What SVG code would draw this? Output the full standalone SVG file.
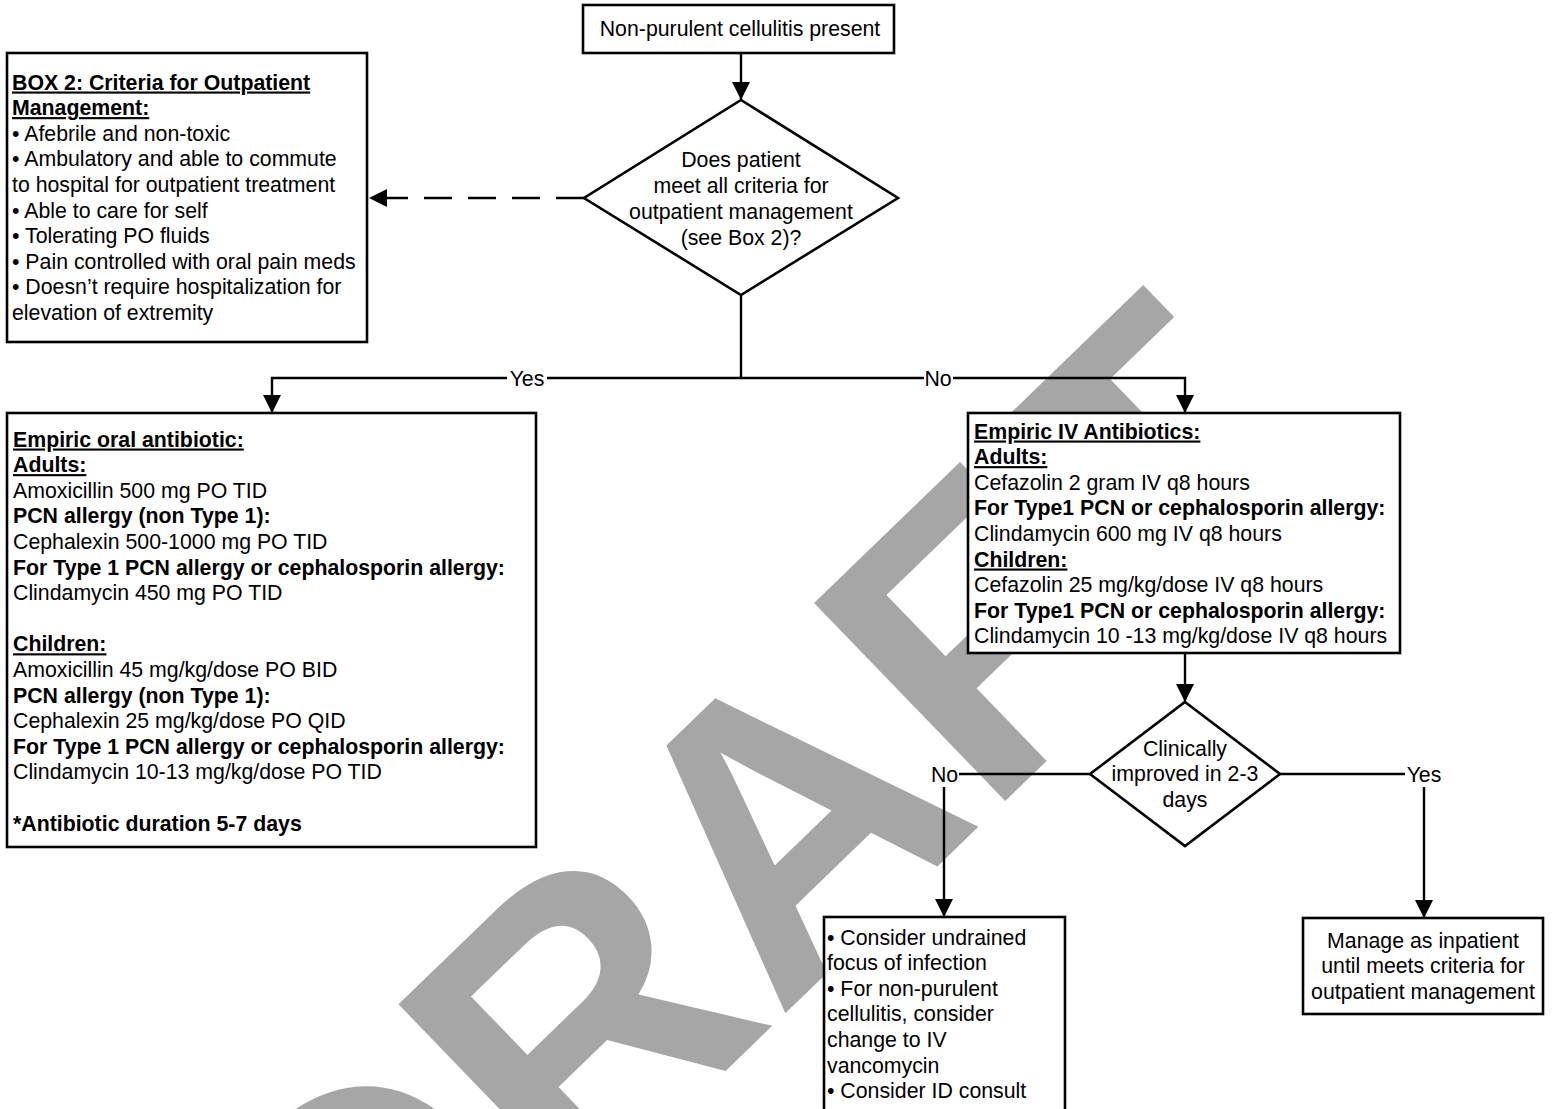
<svg xmlns="http://www.w3.org/2000/svg" width="1556" height="1109" viewBox="0 0 1556 1109">
<style>
  .bg{fill:#ffffff}
  .wm{fill:#a6a6a6;font-family:"Liberation Sans",Arial,sans-serif;font-weight:bold;font-size:400px}
  .node{fill:#ffffff;stroke:#000000;stroke-width:2.6}
  .conn{fill:none;stroke:#000000;stroke-width:2.4}
  .dash{stroke-dasharray:28 16}
  text{font-family:"Liberation Sans",Arial,sans-serif;font-size:21.3px;fill:#000000}
  .c{text-anchor:middle}
  .b{font-weight:bold}
  .u{text-decoration:underline}
</style>
<defs>
  <marker id="arr" markerUnits="userSpaceOnUse" markerWidth="18" markerHeight="18" viewBox="0 0 18 18" refX="18" refY="9" orient="auto">
    <path d="M0,0 L18,9 L0,18 Z" fill="#000000"/>
  </marker>
</defs>
<rect class="bg" x="0" y="0" width="1556" height="1109"/>

<g id="watermark">
  <text class="wm" transform="translate(362.6,1421.5) rotate(-44)">DRAFT</text>
</g>

<g id="connectors">
  <path class="conn" d="M741,53 L741,100" marker-end="url(#arr)"/>
  <path class="conn dash" d="M584,198 L369,198" marker-end="url(#arr)"/>
  <path class="conn" d="M741,295 L741,378"/>
  <path class="conn" d="M741,378 L547,378"/>
  <path class="conn" d="M507,378 L272,378 L272,413" marker-end="url(#arr)"/>
  <path class="conn" d="M741,378 L924,378"/>
  <path class="conn" d="M953,378 L1185,378 L1185,413" marker-end="url(#arr)"/>
  <text class="c" x="527" y="385.5">Yes</text>
  <text class="c" x="938" y="385.5">No</text>
  <path class="conn" d="M1185,653 L1185,702" marker-end="url(#arr)"/>
  <path class="conn" d="M1090,774 L959,774"/>
  <path class="conn" d="M944,787 L944,917" marker-end="url(#arr)"/>
  <text class="c" x="944.5" y="781.5">No</text>
  <path class="conn" d="M1280,774 L1405,774"/>
  <path class="conn" d="M1424,787 L1424,918" marker-end="url(#arr)"/>
  <text class="c" x="1424" y="781.5">Yes</text>
</g>

<g id="start">
  <rect class="node" x="583" y="5" width="311" height="48"/>
  <text class="c" x="740" y="36">Non-purulent cellulitis present</text>
</g>

<g id="decision1">
  <polygon class="node" points="741,100 898,198 741,295 584,198"/>
  <text class="c" x="741" y="166.5">Does patient</text>
  <text class="c" x="741" y="192.5">meet all criteria for</text>
  <text class="c" x="741" y="218.5">outpatient management</text>
  <text class="c" x="741" y="244.5">(see Box 2)?</text>
</g>

<g id="box2">
  <rect class="node" x="7" y="53" width="360" height="289"/>
  <text class="b u" x="12" y="89.5">BOX 2: Criteria for Outpatient</text>
  <text class="b u" x="12" y="115.1">Management:</text>
  <text x="12" y="140.7">• Afebrile and non-toxic</text>
  <text x="12" y="166.3">• Ambulatory and able to commute</text>
  <text x="12" y="191.9">to hospital for outpatient treatment</text>
  <text x="12" y="217.5">• Able to care for self</text>
  <text x="12" y="243.1">• Tolerating PO fluids</text>
  <text x="12" y="268.7">• Pain controlled with oral pain meds</text>
  <text x="12" y="294.3">• Doesn’t require hospitalization for</text>
  <text x="12" y="319.9">elevation of extremity</text>
</g>

<g id="oral">
  <rect class="node" x="7" y="413" width="529" height="434"/>
  <text class="b u" x="13" y="446.5">Empiric oral antibiotic:</text>
  <text class="b u" x="13" y="472.1">Adults:</text>
  <text x="13" y="497.7">Amoxicillin 500 mg PO TID</text>
  <text class="b" x="13" y="523.3">PCN allergy (non Type 1):</text>
  <text x="13" y="548.9">Cephalexin 500-1000 mg PO TID</text>
  <text class="b" x="13" y="574.5">For Type 1 PCN allergy or cephalosporin allergy:</text>
  <text x="13" y="600.1">Clindamycin 450 mg PO TID</text>
  <text class="b u" x="13" y="651.3">Children:</text>
  <text x="13" y="676.9">Amoxicillin 45 mg/kg/dose PO BID</text>
  <text class="b" x="13" y="702.5">PCN allergy (non Type 1):</text>
  <text x="13" y="728.1">Cephalexin 25 mg/kg/dose PO QID</text>
  <text class="b" x="13" y="753.7">For Type 1 PCN allergy or cephalosporin allergy:</text>
  <text x="13" y="779.3">Clindamycin 10-13 mg/kg/dose PO TID</text>
  <text class="b" x="13" y="830.5">*Antibiotic duration 5-7 days</text>
</g>

<g id="iv">
  <rect class="node" x="968" y="413" width="432" height="240"/>
  <text class="b u" x="974" y="438.5">Empiric IV Antibiotics:</text>
  <text class="b u" x="974" y="464.1">Adults:</text>
  <text x="974" y="489.7">Cefazolin 2 gram IV q8 hours</text>
  <text class="b" x="974" y="515.3">For Type1 PCN or cephalosporin allergy:</text>
  <text x="974" y="540.9">Clindamycin 600 mg IV q8 hours</text>
  <text class="b u" x="974" y="566.5">Children:</text>
  <text x="974" y="592.1">Cefazolin 25 mg/kg/dose IV q8 hours</text>
  <text class="b" x="974" y="617.7">For Type1 PCN or cephalosporin allergy:</text>
  <text x="974" y="643.3">Clindamycin 10 -13 mg/kg/dose IV q8 hours</text>
</g>

<g id="decision2">
  <polygon class="node" points="1185,702 1280,774 1185,846 1090,774"/>
  <text class="c" x="1185" y="755.5">Clinically</text>
  <text class="c" x="1185" y="781.1">improved in 2-3</text>
  <text class="c" x="1185" y="806.7">days</text>
</g>

<g id="notimproved">
  <rect class="node" x="824" y="917" width="241" height="200"/>
  <text x="827" y="944.5">• Consider undrained</text>
  <text x="827" y="970.1">focus of infection</text>
  <text x="827" y="995.7">• For non-purulent</text>
  <text x="827" y="1021.3">cellulitis, consider</text>
  <text x="827" y="1046.9">change to IV</text>
  <text x="827" y="1072.5">vancomycin</text>
  <text x="827" y="1098.1">• Consider ID consult</text>
</g>

<g id="inpatient">
  <rect class="node" x="1303" y="918" width="240" height="96"/>
  <text class="c" x="1423" y="947.5">Manage as inpatient</text>
  <text class="c" x="1423" y="973.1">until meets criteria for</text>
  <text class="c" x="1423" y="998.7">outpatient management</text>
</g>
</svg>
